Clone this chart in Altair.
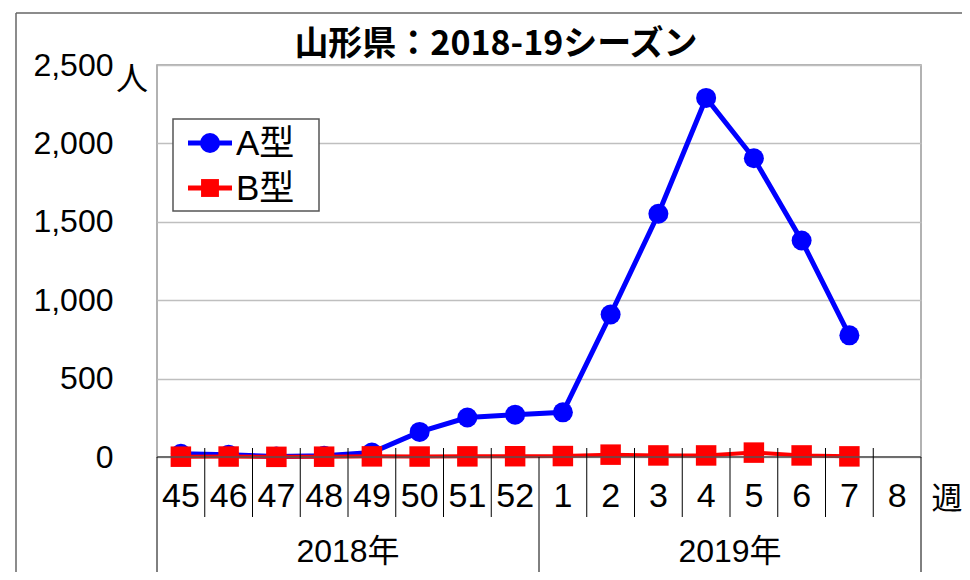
import altair as alt
import pandas as pd

# ---------------- data ----------------
weeks = ["45", "46", "47", "48", "49", "50", "51", "52",
         "1", "2", "3", "4", "5", "6", "7", "8"]
a_values = [20, 15, 3, 8, 28, 160, 252, 270, 285, 909, 1551, 2290, 1905, 1381, 776, None]
b_values = [2, 3, 1, 2, 4, 3, 4, 5, 6, 15, 10, 10, 28, 10, 4, None]
series_names = ["A型", "B型"]
series_colors = ["#0000FF", "#FF0000"]
series_shapes = ["circle", "square"]
years = ["2018年", "2019年"]
year_first_week = [0, 8]
year_last_week = [7, 15]
y_ticks = [0, 500, 1000, 1500, 2000, 2500]
title_text = "山形県：2018-19シーズン"

# ---------------- layout ----------------
W, H = 764, 392
PAD_L, PAD_T = 149, 57
PAD_R = 954 - PAD_L - W
PAD_B = 564 - PAD_T - H

LAT = "Liberation Sans, Arial, Noto Sans CJK JP"
CJK = "Noto Sans CJK JP"

rows = []
for i, w in enumerate(weeks):
    for name, vals in zip(series_names, [a_values, b_values]):
        if vals[i] is not None:
            rows.append({"idx": i, "week": w, "series": name, "value": vals[i]})
df = pd.DataFrame(rows)
week_df = pd.DataFrame({"idx": list(range(len(weeks))), "week": weeks})

n = len(weeks)
year_bounds = sorted(set([f - 0.5 for f in year_first_week] + [l + 0.5 for l in year_last_week]))
short_bounds = [i - 0.5 for i in range(1, n) if (i - 0.5) not in year_bounds]
short_df = pd.DataFrame({"b": short_bounds})
long_df = pd.DataFrame({"b": year_bounds})
year_df = pd.DataFrame({
    "year": years,
    "c": [(f + l) / 2 for f, l in zip(year_first_week, year_last_week)],
})

xscale = alt.Scale(domain=[-0.5, n - 0.5], nice=False, zero=False)
yscale = alt.Scale(domain=[0, 2500], nice=False)
yaxis = alt.Axis(values=y_ticks, format=",d", grid=True, gridColor="#BFBFBF",
                 gridWidth=1.5, ticks=False, domain=False, labelFontSize=32,
                 labelFont=LAT, labelColor="black", labelPadding=44, title=None)

X = alt.X("idx:Q", scale=xscale, axis=None)
Y = alt.Y("value:Q", scale=yscale, axis=yaxis)

layers = []
one = alt.Data(values=[{}])

# outer frame (partial, as in reference)
layers.append(alt.Chart(one).mark_rule(color="#666", strokeWidth=1.5).encode(
    x=alt.value(-141), y=alt.value(-52), y2=alt.value(520)))
layers.append(alt.Chart(one).mark_rule(color="#666", strokeWidth=1.5).encode(
    x=alt.value(-141), x2=alt.value(820), y=alt.value(-52)))

# series
for name, col, shp, sw, sz in zip(series_names, series_colors, series_shapes, [5, 4], [400, 420]):
    sub = df[df["series"] == name]
    layers.append(alt.Chart(sub).mark_line(color=col, strokeWidth=sw).encode(x=X, y=Y))
    layers.append(alt.Chart(sub).mark_point(color=col, filled=True, opacity=1,
                                            shape=shp, size=sz).encode(x=X, y=Y))

# baseline
layers.append(alt.Chart(one).mark_rule(color="#555", strokeWidth=1.5).encode(
    x=alt.value(0), x2=alt.value(W), y=alt.value(H)))

# table separators below axis
layers.append(alt.Chart(short_df).mark_rule(color="black", strokeWidth=1).encode(
    x=alt.X("b:Q", scale=xscale, axis=None), y=alt.value(H - 9), y2=alt.value(H + 60)))
layers.append(alt.Chart(long_df).mark_rule(color="black", strokeWidth=1).encode(
    x=alt.X("b:Q", scale=xscale, axis=None), y=alt.value(H), y2=alt.value(H + 130)))

# week labels
layers.append(alt.Chart(week_df).mark_text(font=LAT, fontSize=34, color="black",
                                           baseline="middle", align="center").encode(
    x=X, y=alt.value(H + 40), text="week:N"))
# year labels
layers.append(alt.Chart(year_df).mark_text(font=LAT, fontSize=32, color="black",
                                           baseline="middle", align="center").encode(
    x=alt.X("c:Q", scale=xscale, axis=None), y=alt.value(H + 95), text="year:N"))

# unit labels
layers.append(alt.Chart(one).mark_text(text="週", font=CJK, fontSize=31, color="black",
                                       baseline="middle", align="center").encode(
    x=alt.value(790), y=alt.value(H + 43)))
layers.append(alt.Chart(one).mark_text(text="人", font=CJK, fontSize=32, color="black",
                                       baseline="middle", align="center").encode(
    x=alt.value(-25), y=alt.value(15)))

# title
layers.append(alt.Chart(one).mark_text(text=title_text, font=CJK, fontSize=34, fontWeight="bold",
                                       color="black", baseline="middle", align="center").encode(
    x=alt.value(339), y=alt.value(-20)))

# legend
layers.append(alt.Chart(one).mark_rect(fill="white", stroke="#555", strokeWidth=1.5).encode(
    x=alt.value(16), x2=alt.value(162), y=alt.value(54), y2=alt.value(146)))
for k, (name, col, shp, sw, sz) in enumerate(zip(series_names, series_colors, series_shapes, [5, 5], [400, 320])):
    yy = 78 + 45 * k
    layers.append(alt.Chart(one).mark_rule(color=col, strokeWidth=sw).encode(
        x=alt.value(31), x2=alt.value(75), y=alt.value(yy)))
    layers.append(alt.Chart(one).mark_point(color=col, filled=True, opacity=1, shape=shp, size=sz).encode(
        x=alt.value(53), y=alt.value(yy)))
    layers.append(alt.Chart(one).mark_text(text=name, font=LAT, fontSize=35, color="black",
                                           baseline="middle", align="left").encode(
        x=alt.value(79), y=alt.value(yy + 1)))

chart = alt.layer(*layers).properties(
    width=W, height=H,
    autosize=alt.AutoSizeParams(type="none"),
    padding={"left": PAD_L, "top": PAD_T, "right": PAD_R, "bottom": PAD_B},
    background="white",
).configure_view(stroke="#999", strokeWidth=1.5)

chart.save("out.html", embed_options={"renderer": "svg", "actions": False})
